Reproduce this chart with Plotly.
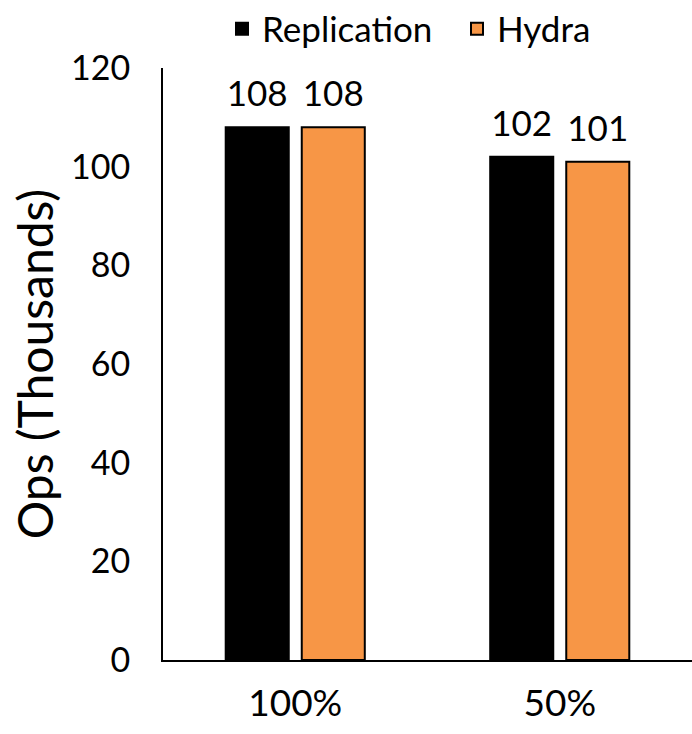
import plotly.graph_objects as go

categories = ["100%", "50%"]
replication = [108, 102]
hydra = [108, 101]
series_names = ["Replication", "Hydra"]
y_ticks = [0, 20, 40, 60, 80, 100, 120]

FONT = "Lato"
BLACK = "#000000"
ORANGE = "#F79646"
colors = [BLACK, ORANGE]
values = [replication, hydra]

fig = go.Figure()
for i, (name, vals) in enumerate(zip(series_names, values)):
    fig.add_trace(go.Bar(
        x=categories, y=vals, name=name, offsetgroup=str(i),
        marker=dict(color=colors[i], line=dict(color="#000000", width=2)),
        showlegend=True,
    ))
# value labels, aligned to the bars via scattermode group
for i, (name, vals) in enumerate(zip(series_names, values)):
    fig.add_trace(go.Scatter(
        x=categories, y=vals, offsetgroup=str(i), mode="markers+text",
        text=[str(v) for v in vals], textposition="top center",
        textfont=dict(family=FONT, size=35, color="#000000"),
        marker=dict(size=18, color="rgba(0,0,0,0)"),
        cliponaxis=False, showlegend=False, hoverinfo="skip",
    ))

fig.update_layout(
    width=692, height=734,
    margin=dict(l=163, r=0, t=68, b=74, autoexpand=False),
    paper_bgcolor="white", plot_bgcolor="white",
    font=dict(family=FONT, size=33, color="#000000"),
    barmode="group", bargap=0.425, bargroupgap=0.171,
    scattermode="group",
    showlegend=True,
    legend=dict(orientation="h", x=(222 - 163) / 529, xanchor="left", y=1.066, yanchor="middle",
                font=dict(family=FONT, size=35), itemsizing="constant",
                entrywidth=190, entrywidthmode="pixels",
                bgcolor="rgba(0,0,0,0)"),
)
fig.update_yaxes(
    range=[0, 120], tickvals=y_ticks, showgrid=False, zeroline=False,
    showline=True, linecolor="#000000", linewidth=2,
    ticks="", ticklabelstandoff=24,
    title=dict(text="Ops (Thousands)", font=dict(family=FONT, size=48), standoff=2),
    tickfont=dict(family=FONT, size=34),
)
fig.update_xaxes(
    showgrid=False, zeroline=False, showline=True, linecolor="#000000", linewidth=2,
    ticks="", ticklabelstandoff=10, tickfont=dict(family=FONT, size=37),
)

fig.write_html("out.html")
